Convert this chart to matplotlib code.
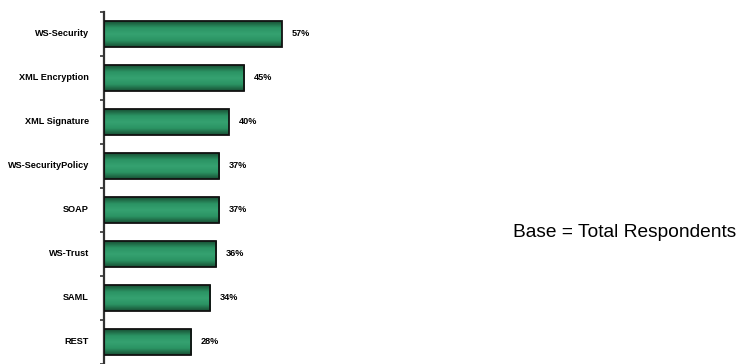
import numpy as np
import matplotlib
matplotlib.use('Agg')
import matplotlib.pyplot as plt
from matplotlib.colors import LinearSegmentedColormap
from matplotlib.transforms import blended_transform_factory

categories = ['WS-Security', 'XML Encryption', 'XML Signature', 'WS-SecurityPolicy',
              'SOAP', 'WS-Trust', 'SAML', 'REST']
values = [57, 45, 40, 37, 37, 36, 34, 28]
note = 'Base = Total Respondents'

font = 'Liberation Sans'

fig = plt.figure(figsize=(7.44, 3.64), dpi=100)
ax = fig.add_axes([104/744, 0, 312/744, 352/364])

y = np.arange(len(categories))
barH = 0.58
bars = ax.barh(y, values, height=barH, color='none', edgecolor='#111111', linewidth=1.3, zorder=3)

# dark-light-dark green shading across each bar
cmap = LinearSegmentedColormap.from_list('g', ['#184f34', '#2b9363', '#35a271', '#2b9363', '#184f34'])
grad = np.linspace(0, 1, 64).reshape(-1, 1)
for b, v, yy in zip(bars, values, y):
    im = ax.imshow(grad, cmap=cmap, aspect='auto', extent=(0, v, yy + barH/2, yy - barH/2),
                   zorder=2, interpolation='bilinear')
    im.set_clip_path(b)

ax.set_xlim(0, 100)
ax.set_ylim(7.416, -0.5)

for s in ['top', 'right', 'bottom']:
    ax.spines[s].set_visible(False)
ax.spines['left'].set_linewidth(1.6)
ax.spines['left'].set_color('#333333')
ax.set_xticks([])
ax.set_yticks(np.arange(-0.5, 8, 1.0))
ax.set_yticklabels([])
ax.tick_params(axis='y', which='major', length=3, width=1.2, color='#333333', direction='out')

tr = blended_transform_factory(fig.transFigure, ax.transData)
for name, yy in zip(categories, y):
    ax.text(89/744, yy, name, transform=tr, ha='right', va='center',
            fontsize=6.6, fontweight='bold', family=font)

for v, yy in zip(values, y):
    ax.annotate(f'{v}%', (v, yy), xytext=(7, 0), textcoords='offset points',
                ha='left', va='center', fontsize=6.6, fontweight='bold', family=font)

fig.text(513/744, 1 - 233/364, note, ha='left', va='center', fontsize=13.8, family=font)

fig.savefig('out.png', dpi=100)
